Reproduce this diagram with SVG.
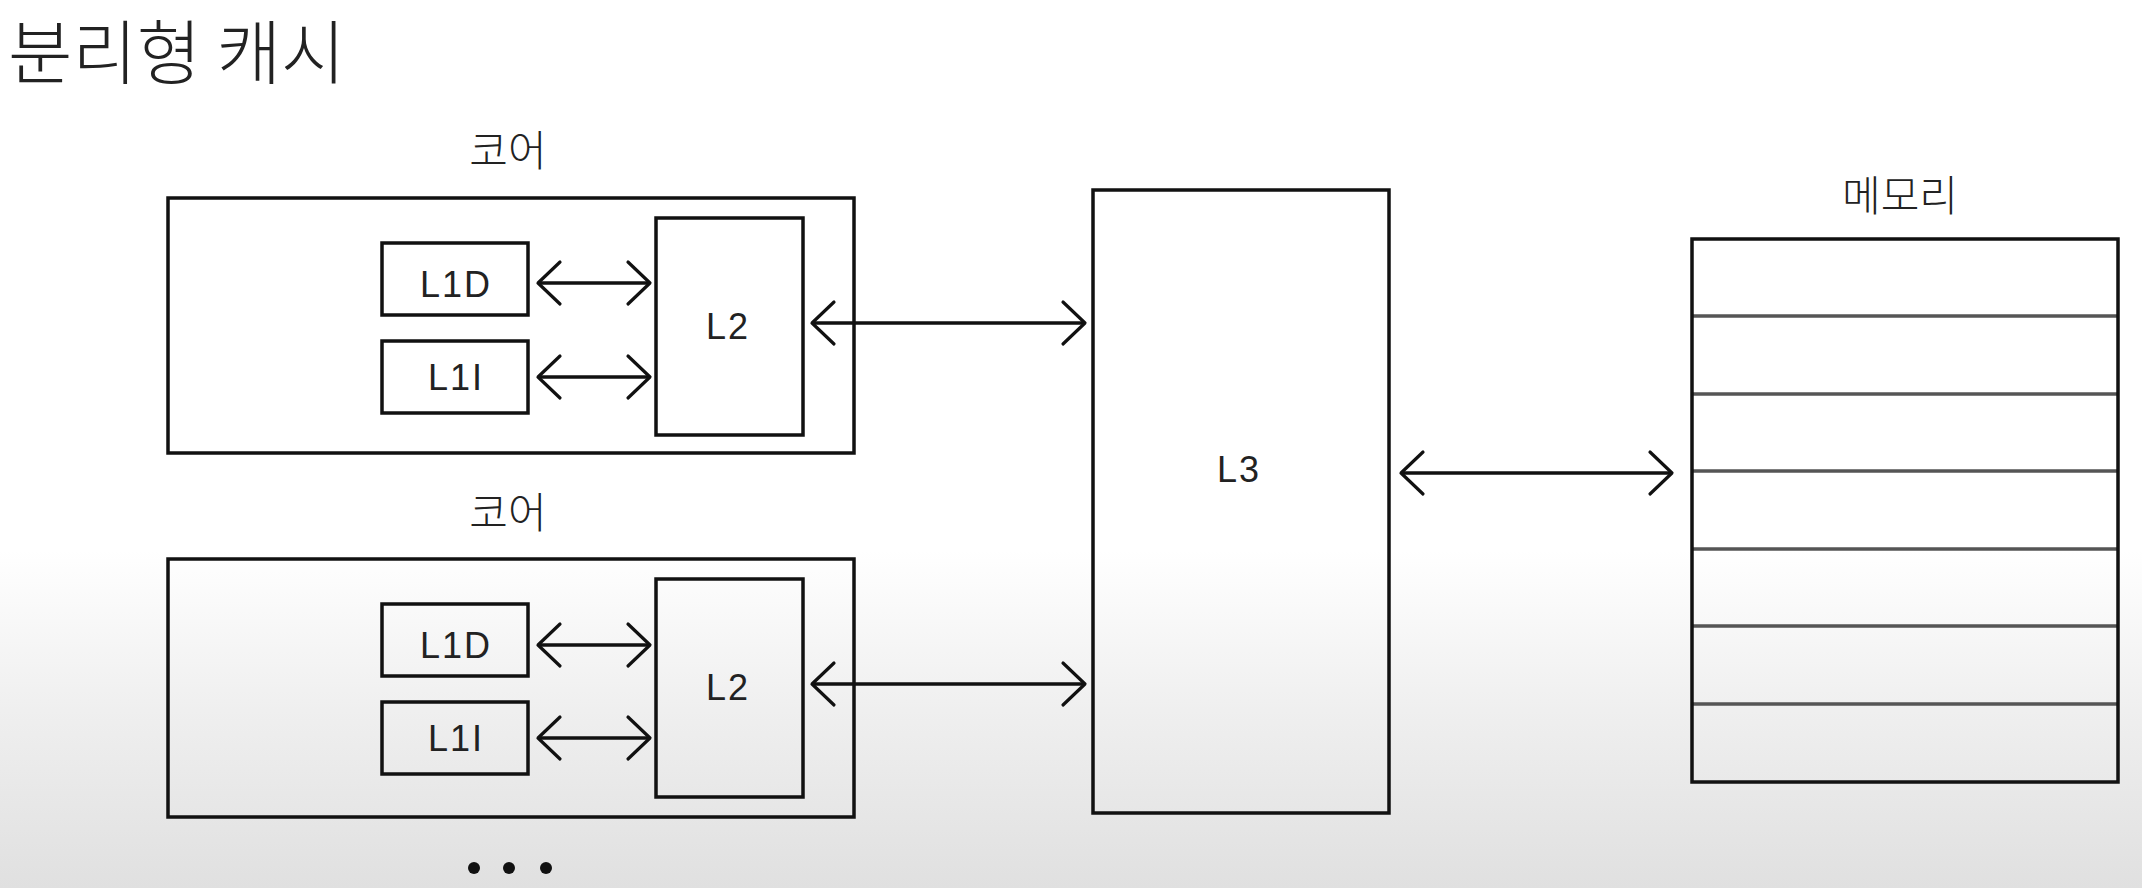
<svg xmlns="http://www.w3.org/2000/svg" width="2142" height="888" viewBox="0 0 2142 888">
<defs>
<linearGradient id="bg" x1="0" y1="0" x2="0" y2="1">
<stop offset="0" stop-color="#ffffff"/>
<stop offset="0.62" stop-color="#ffffff"/>
<stop offset="0.8" stop-color="#efefef"/>
<stop offset="1" stop-color="#e0e0e0"/>
</linearGradient>
<marker id="chev" viewBox="-26 -24 30 48" markerWidth="30" markerHeight="48" refX="0" refY="0" orient="auto-start-reverse" markerUnits="userSpaceOnUse">
<path d="M-22,-21 L0,0 L-22,21" fill="none" stroke="#111" stroke-width="3.2" stroke-linecap="round" stroke-linejoin="round"/>
</marker>
</defs>
<style>
.box{fill:none;stroke:#111;stroke-width:3.5}
.row{stroke:#555;stroke-width:3.5}
.arr{stroke:#111;stroke-width:3.5;fill:none;marker-start:url(#chev);marker-end:url(#chev)}
.lbl{font-family:"Liberation Sans",Arial,sans-serif;font-size:36px;fill:#222;text-anchor:middle;letter-spacing:2px}
.kr{font-family:"Noto Sans CJK KR","Noto Sans",sans-serif;font-size:42px;font-weight:300;fill:#222;text-anchor:middle}
.title{font-family:"Noto Sans CJK KR","Noto Sans",sans-serif;font-size:70px;font-weight:300;fill:#222}
</style>
<rect x="0" y="0" width="2142" height="888" fill="url(#bg)"/>
<text class="title" x="8" y="79">분리형 캐시</text>

<g id="core1">
<text class="kr" x="508" y="166">코어</text>
<rect class="box" x="168" y="198" width="686" height="255"/>
<g id="core1-l1d"><rect class="box" x="382" y="243" width="146" height="72"/><text class="lbl" x="456" y="297">L1D</text></g>
<g id="core1-l1i"><rect class="box" x="382" y="341" width="146" height="72"/><text class="lbl" x="456" y="390">L1I</text></g>
<g id="core1-l2"><rect class="box" x="656" y="218" width="147" height="217"/><text class="lbl" x="728" y="339">L2</text></g>
</g>

<g id="core2">
<text class="kr" x="508" y="528">코어</text>
<rect class="box" x="168" y="559" width="686" height="258"/>
<g id="core2-l1d"><rect class="box" x="382" y="604" width="146" height="72"/><text class="lbl" x="456" y="658">L1D</text></g>
<g id="core2-l1i"><rect class="box" x="382" y="702" width="146" height="72"/><text class="lbl" x="456" y="751">L1I</text></g>
<g id="core2-l2"><rect class="box" x="656" y="579" width="147" height="218"/><text class="lbl" x="728" y="700">L2</text></g>
</g>

<g id="more">
<circle cx="474" cy="868" r="6" fill="#111"/>
<circle cx="509" cy="868" r="6" fill="#111"/>
<circle cx="546" cy="868" r="6" fill="#111"/>
</g>

<g id="l3">
<rect class="box" x="1093" y="190" width="296" height="623"/>
<text class="lbl" x="1239" y="482">L3</text>
</g>

<g id="memory">
<text class="kr" x="1900" y="211">메모리</text>
<line class="row" x1="1692" y1="316" x2="2118" y2="316"/>
<line class="row" x1="1692" y1="394" x2="2118" y2="394"/>
<line class="row" x1="1692" y1="471" x2="2118" y2="471"/>
<line class="row" x1="1692" y1="549" x2="2118" y2="549"/>
<line class="row" x1="1692" y1="626" x2="2118" y2="626"/>
<line class="row" x1="1692" y1="704" x2="2118" y2="704"/>
<rect class="box" x="1692" y="239" width="426" height="543"/>
</g>

<g id="connectors">
<line class="arr" x1="538" y1="283" x2="650" y2="283"/>
<line class="arr" x1="538" y1="377" x2="650" y2="377"/>
<line class="arr" x1="538" y1="645" x2="650" y2="645"/>
<line class="arr" x1="538" y1="738" x2="650" y2="738"/>
<line class="arr" x1="812" y1="323" x2="1085" y2="323"/>
<line class="arr" x1="812" y1="684" x2="1085" y2="684"/>
<line class="arr" x1="1401" y1="473" x2="1672" y2="473"/>
</g>
</svg>
